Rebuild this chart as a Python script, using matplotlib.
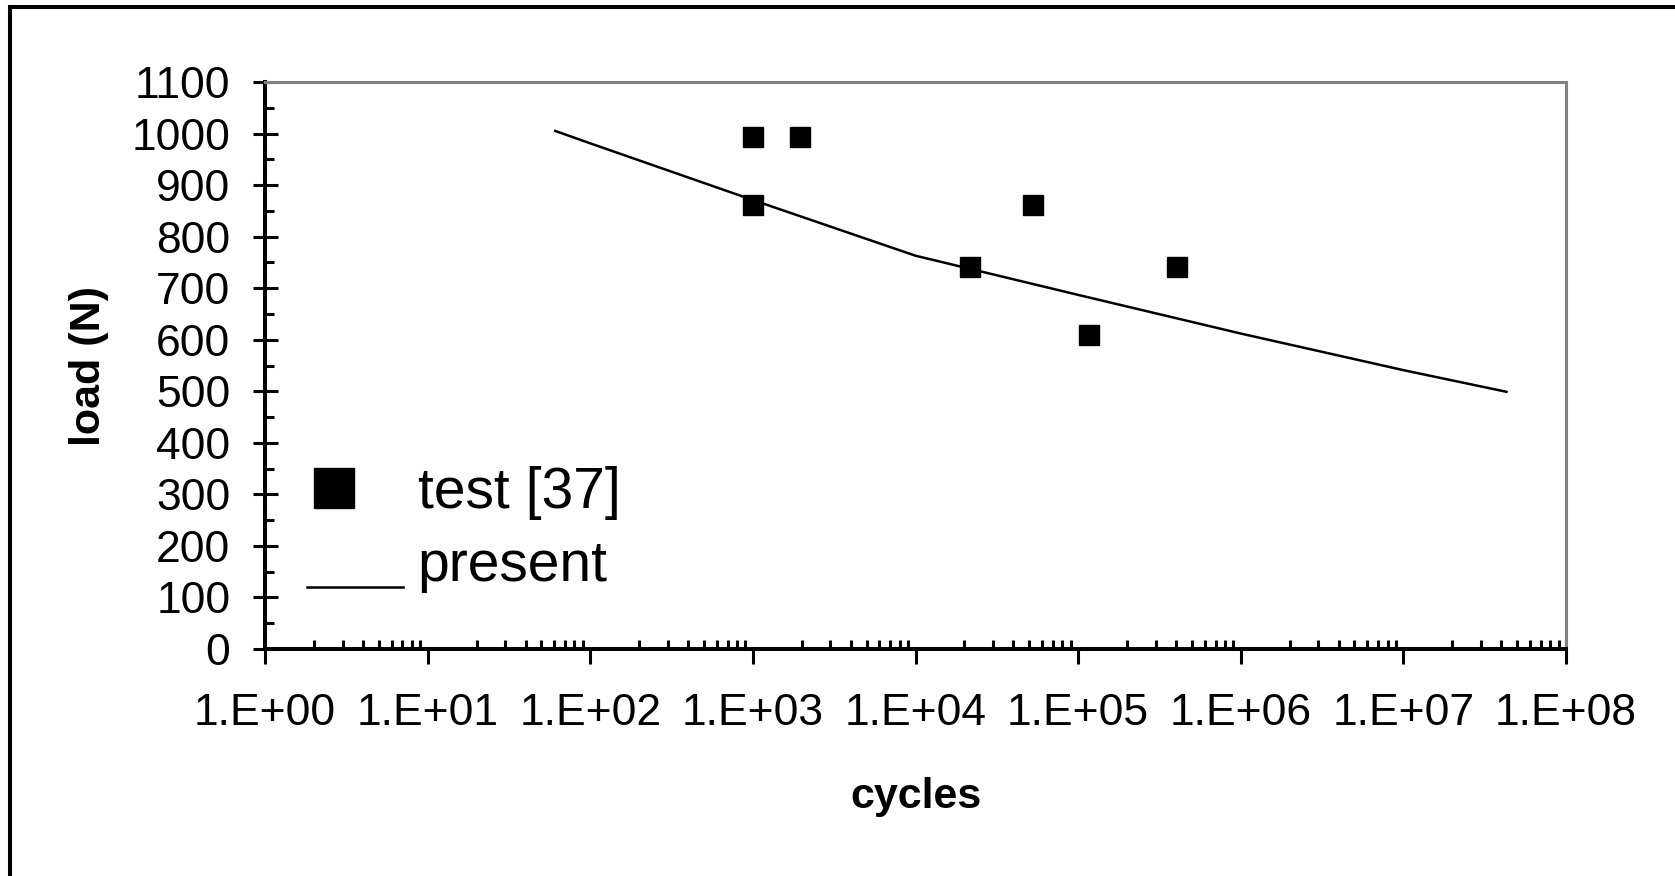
import numpy as np
import matplotlib
matplotlib.use("Agg")
import matplotlib.pyplot as plt
from matplotlib.lines import Line2D
from matplotlib.legend_handler import HandlerLine2D
from matplotlib.ticker import MultipleLocator, LogLocator, NullFormatter

# test points
test_cycles = [1000, 1950, 1000, 21600, 52900, 117000, 403000]
test_load = [994, 994, 862, 741, 862, 610, 741]

# "present" model curve
present_cycles = [61, 100, 1e3, 1e4, 1e5, 1e6, 1e7, 4.3e7]
present_load = [1005, 981, 871, 763, 687, 612, 541, 499]

x_decades = list(range(0, 9))
x_tick_labels = [f"1.E+{d:02d}" for d in x_decades]


class ShiftedHandler(HandlerLine2D):
    """Legend handle nudged by (dx, dy) points, like the Excel legend."""
    def __init__(self, dx=0, dy=0, **kw):
        super().__init__(**kw)
        self.dx, self.dy = dx, dy

    def create_artists(self, legend, orig_handle, xdescent, ydescent,
                       width, height, fontsize, trans):
        arts = super().create_artists(legend, orig_handle, xdescent, ydescent,
                                      width, height, fontsize, trans)
        for a in arts:
            a.set_xdata(np.asarray(a.get_xdata()) + self.dx)
            a.set_ydata(np.asarray(a.get_ydata()) + self.dy)
        return arts


plt.rcParams['font.family'] = ['Liberation Sans', 'DejaVu Sans']

W, H = 1675, 876
fig = plt.figure(figsize=(W/100, H/100), dpi=100)
ax = fig.add_axes([265/W, 1 - 649/H, 1301/W, 567/H])

h_present, = ax.plot(present_cycles, present_load, color='black', lw=1.8)
h_test, = ax.plot(test_cycles, test_load, ls='none', marker='s', ms=14.5,
                  color='black')

ax.set_xscale('log')
ax.set_xlim(1, 1e8)
ax.set_ylim(0, 1100)
ax.set_xticks([10.0**d for d in x_decades], x_tick_labels)
ax.xaxis.set_minor_locator(LogLocator(base=10, subs=np.arange(2, 10), numticks=20))
ax.xaxis.set_minor_formatter(NullFormatter())
ax.yaxis.set_major_locator(MultipleLocator(100))
ax.yaxis.set_minor_locator(MultipleLocator(50))

ax.tick_params(axis='x', which='major', direction='out', length=11, width=2.2,
               labelsize=32, pad=21)
ax.tick_params(axis='x', which='minor', direction='in', length=6.5, width=2.2)
ax.tick_params(axis='y', which='major', direction='inout', length=18, width=2.2,
               labelsize=32, pad=16)
ax.tick_params(axis='y', which='minor', direction='in', length=6.5, width=2.2)

for s in ('left', 'bottom'):
    ax.spines[s].set_color('black')
    ax.spines[s].set_linewidth(2.9)
for s in ('top', 'right'):
    ax.spines[s].set_color('#808080')
    ax.spines[s].set_linewidth(2.2)

ax.set_xlabel('cycles', fontsize=31, fontweight='bold')
ax.xaxis.set_label_coords(0.5, -0.225)
ax.set_ylabel('load (N)', fontsize=31, fontweight='bold')
ax.yaxis.set_label_coords(-0.120, 0.5)

ax.legend([h_test, h_present], ['test [37]', 'present'], loc='upper left',
          bbox_to_anchor=(0.032, 0.323), frameon=False, fontsize=41,
          markerscale=2.0, handlelength=1.7, handletextpad=0.25,
          labelspacing=0.33, borderpad=0, borderaxespad=0,
          handler_map={h_test: ShiftedHandler(dx=-15),
                       h_present: ShiftedHandler(dy=-19)})

# frame left over from the cropped source (top and left edge only)
fig.add_artist(Line2D([10/W, 1], [1 - 7/H, 1 - 7/H], transform=fig.transFigure,
                      color='black', lw=2.9))
fig.add_artist(Line2D([10/W, 10/W], [0, 1 - 7/H], transform=fig.transFigure,
                      color='black', lw=2.9))

fig.savefig('out.png', dpi=100)
